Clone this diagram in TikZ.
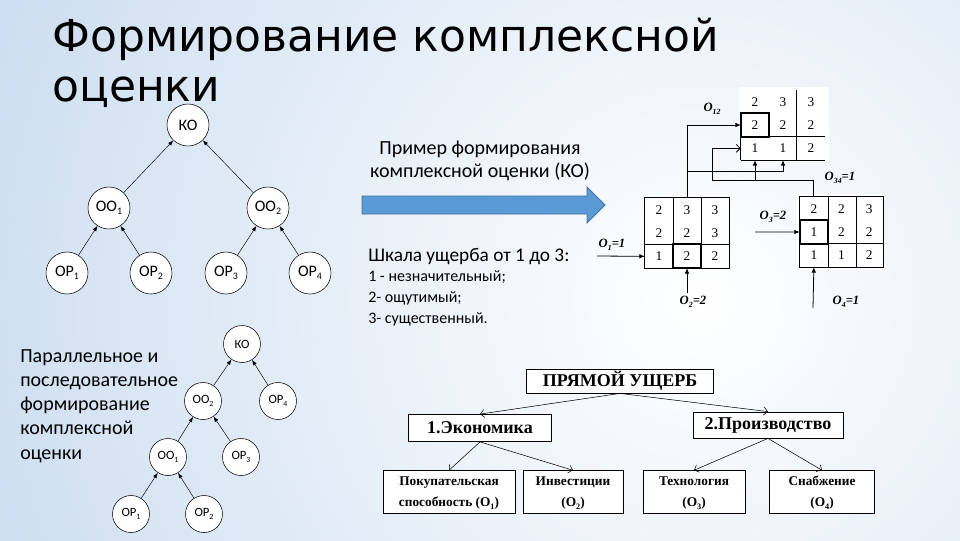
\documentclass[tikz,border=0pt]{standalone}
\usepackage{graphicx}
\usepackage{fontspec}
\setmainfont{Carlito}
\newfontfamily\headfont{DejaVu Sans}
\newfontfamily\tnr{Liberation Serif}
\usetikzlibrary{arrows.meta}
\definecolor{Slide}{HTML}{BDD3EB}
\definecolor{Pointer}{HTML}{5B9BD5}
\definecolor{PointerEdge}{HTML}{41719C}
\newcommand{\idx}[1]{\raisebox{-.45ex}{\scalebox{.62}{#1}}}
\tikzset{
  ring/.style={circle,draw,fill=white,inner sep=0pt,minimum size=31.5pt,font=\fontsize{12}{12}\selectfont},
  smallring/.style={ring,minimum size=27.75pt,font=\fontsize{9.5}{10}\selectfont},
  up/.style={-{Latex[length=4pt,width=3pt]},line width=.35pt},
  cell/.style={rectangle,inner sep=0pt,minimum width=21pt,minimum height=17.5pt,font=\tnr\fontsize{10}{10}\selectfont},
  feed/.style={-{Latex[length=4pt,width=3.5pt]},line width=.6pt},
  chevron/.style={-{Straight Barb[length=3pt,width=6pt]},line width=.6pt},
  lab/.style={inner sep=0pt,font=\tnr\bfseries\itshape\fontsize{9.5}{9.5}\selectfont},
  box/.style={draw,fill=white,inner sep=0pt,line width=.6pt,font=\tnr\bfseries\fontsize{13.5}{14}\selectfont},
  leaf/.style={box,align=center,font=\tnr\bfseries\fontsize{10}{16}\selectfont},
  branch/.style={-{Straight Barb[length=3pt,width=6pt]},line width=.4pt}
}
\begin{document}
\begin{tikzpicture}[x=0.75pt,y=-0.75pt]
  \useasboundingbox (0,0) rectangle (960,540);
  \begin{scope}
    \clip (0,0) rectangle (960,540);
    \fill[Slide] (0,0) rectangle (960,540);
    \shade[inner color=white,outer color=Slide] (700,300) circle[radius=1000];
  \end{scope}

  \node[anchor=north west,align=left,inner sep=0pt,font=\headfont\fontsize{33}{37.5}\selectfont] (title) at (52,18) {Формирование комплексной\\оценки};

  % parallel tree
  \node[ring] (ko) at (188,125) {КО};
  \node[ring] (oo1) at (109,208) {ОО\idx{1}};
  \node[ring] (oo2) at (268,208) {ОО\idx{2}};
  \node[ring] (op1) at (67,273) {ОР\idx{1}};
  \node[ring] (op2) at (151,273) {ОР\idx{2}};
  \node[ring] (op3) at (226,273) {ОР\idx{3}};
  \node[ring] (op4) at (310,273) {ОР\idx{4}};
  \foreach \a/\b in {oo1/ko,oo2/ko,op1/oo1,op2/oo1,op3/oo2,op4/oo2}
    \draw[up] (\a) -- (\b);

  % mixed tree
  \node[smallring] (sko) at (242,344) {КО};
  \node[smallring] (soo2) at (203,401) {ОО\idx{2}};
  \node[smallring] (sop4) at (278,401) {ОР\idx{4}};
  \node[smallring] (soo1) at (168,457) {ОО\idx{1}};
  \node[smallring] (sop3) at (241,457) {ОР\idx{3}};
  \node[smallring] (sop1) at (131,514) {ОР\idx{1}};
  \node[smallring] (sop2) at (204,514) {ОР\idx{2}};
  \foreach \a/\b in {soo2/sko,sop4/sko,soo1/soo2,sop3/soo2,sop1/soo1,sop2/soo1}
    \draw[up] (\a) -- (\b);

  \node[anchor=north west,align=left,inner sep=0pt,font=\fontsize{15}{18.2}\selectfont] (note) at (20,349)
    {Параллельное и\\последовательное\\формирование\\комплексной\\оценки};

  \node[align=center,inner sep=0pt,font=\fontsize{15}{17.5}\selectfont] (demo) at (480,161)
    {Пример формирования\\комплексной оценки (КО)};
  \fill[Pointer,draw=PointerEdge,line width=.6pt] (362,196) -- (587,196) -- (587,187) -- (605,205)
    -- (587,223) -- (587,214) -- (362,214) -- cycle;

  \node[anchor=west,inner sep=0pt,font=\fontsize{14.5}{17}\selectfont] (scalehead) at (368,256) {Шкала ущерба от 1 до 3:};
  \node[anchor=north west,align=left,inner sep=0pt,font=\fontsize{12}{16}\selectfont] (scalelist) at (368,270)
    {1 - незначительный;\\2- ощутимый;\\3- существенный.};

  % matrices
  \fill[white] (643,196) rectangle (731,270);
  \fill[white] (797,194) rectangle (884,270);
  \fill[white] (739,87) rectangle (829,162);
  \foreach \vals [count=\r] in {{2,3,3},{2,2,3},{1,2,2}}
    \foreach \v [count=\c] in \vals
      \node[cell] (ma\r\c) at ({645+28*(\c-.5)},{198+23.33*(\r-.5)}) {\v};
  \foreach \vals [count=\r] in {{2,2,3},{1,2,2},{1,1,2}}
    \foreach \v [count=\c] in \vals
      \node[cell] (mb\r\c) at ({800+27.7*(\c-.5)},{197+23.33*(\r-.5)}) {\v};
  \foreach \vals [count=\r] in {{2,3,3},{2,2,2},{1,1,2}}
    \foreach \v [count=\c] in \vals
      \node[cell] (mc\r\c) at ({741+28*(\c-.5)},{90+23.33*(\r-.5)}) {\v};

  \draw (ma11.north west) rectangle (ma33.south east);
  \draw (ma11.north east) -- (ma31.south east) (ma12.north east) -- (ma32.south east);
  \draw (ma31.north west) -- (ma33.north east);
  \draw[line width=1.5pt] (ma32.north west) rectangle (ma32.south east);

  \draw (mb11.north west) rectangle (mb33.south east);
  \draw (mb11.north east) -- (mb31.south east) (mb12.north east) -- (mb32.south east);
  \draw (mb31.north west) -- (mb33.north east);
  \draw[line width=1.5pt] (mb21.north west) rectangle (mb21.south east);

  \draw (mc13.north west) -- (mc33.south west);
  \draw (mc31.north west) -- (mc33.north east) (mc31.south west) -- (mc33.south east);
  \draw (mc31.north west) -- (mc31.south west);
  \draw[line width=1.5pt] (mc21.north west) rectangle (mc21.south east);

  % inputs
  \coordinate (in1) at (597,256);
  \coordinate (in2) at (687,293);
  \coordinate (in3) at (755,232);
  \coordinate (in4) at (813,308);
  \draw[feed] (in1) -- (ma31.west);
  \draw[feed] (in2) -- (ma32.south);
  \draw[feed] (in3) -- (mb21.west);
  \draw[feed] (in4) -- (mb31.south);

  % aggregation routes
  \coordinate (tapa) at (687,171);
  \coordinate (bendb) at (712,180);
  \coordinate (tapb) at (755,180);
  \draw[feed] (ma12.north) |- (mc21.west);
  \draw[feed] (tapa) -| (mc32.south);
  \draw[chevron] (mb11.north) |- (bendb) |- (mc31.west);
  \draw[feed] (tapb) -- (mc31.south);

  \node[lab] (l1) at (612,245) {O\idx{1}=1};
  \node[lab] (l2) at (693,302) {O\idx{2}=2};
  \node[lab] (l3) at (773,217) {O\idx{3}=2};
  \node[lab] (l4) at (846,302) {O\idx{4}=1};
  \node[lab] (l12) at (712,109) {O\idx{12}};
  \node[lab] (l34) at (840,178) {O\idx{34}=1};

  % damage tree
  \node[box,minimum width=140pt,minimum height=18pt] (pu) at (620,381) {ПРЯМОЙ УЩЕРБ};
  \node[box,minimum width=107pt,minimum height=20.25pt] (ec) at (480,428) {1.Экономика};
  \node[box,minimum width=112.5pt,minimum height=19.5pt] (pr) at (768,425) {2.Производство};
  \node[leaf,minimum width=99pt,minimum height=30pt] (o1b) at (449,492) {\strut Покупательская\\\strut способность (O\idx{1})};
  \node[leaf,minimum width=75pt,minimum height=30pt] (o2b) at (573,492) {\strut Инвестиции\\\strut(O\idx{2})};
  \node[leaf,minimum width=76.5pt,minimum height=30pt] (o3b) at (694,492) {\strut Технология\\\strut(O\idx{3})};
  \node[leaf,minimum width=78.75pt,minimum height=30pt] (o4b) at (822,492) {\strut Снабжение\\\strut(O\idx{4})};
  \draw[branch] (pu.south) -- (ec.north);
  \draw[branch] (pu.south) -- (pr.north);
  \draw[branch] (ec.south) -- (o1b.north);
  \draw[branch] (ec.south) -- (o2b.north);
  \draw[branch] (pr.south) -- (o3b.north);
  \draw[branch] (pr.south) -- (o4b.north);
\end{tikzpicture}
\end{document}
